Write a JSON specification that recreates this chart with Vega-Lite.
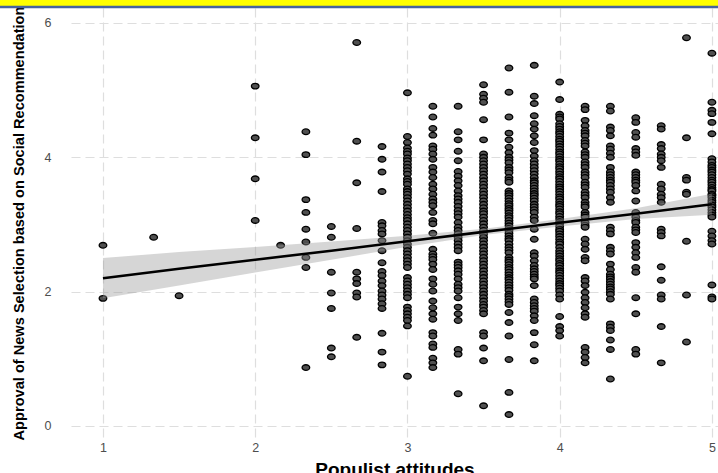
{
  "$schema": "https://vega.github.io/schema/vega-lite/v6.json",
  "width": 647,
  "height": 429,
  "autosize": "none",
  "padding": {"left": 71, "top": 8, "right": 0, "bottom": 36},
  "background": "white",
  "config": {
    "view": {"stroke": null},
    "axis": {
      "grid": true, "gridColor": "#dedede", "gridDash": [9, 5], "gridWidth": 1.2,
      "domain": false, "ticks": false, "format": "d",
      "labelFont": "Liberation Sans", "labelFontSize": 12.5, "labelColor": "#4d4d4d",
      "titleColor": "#000000", "titleFontWeight": "bold", "titleFont": "Liberation Sans"
    }
  },
  "datasets": {
    "pts": [
      {"x":1,"y":2.69},{"x":1,"y":1.90},{"x":1.333,"y":2.81},{"x":1.5,"y":1.94},
      {"x":2,"y":5.06},{"x":2,"y":4.29},{"x":2,"y":3.68},{"x":2,"y":3.06},{"x":2.167,"y":2.69},
      {"x":2.333,"y":4.38},{"x":2.333,"y":4.04},{"x":2.333,"y":3.37},{"x":2.333,"y":3.18},{"x":2.333,"y":2.93},{"x":2.333,"y":2.74},{"x":2.333,"y":2.51},{"x":2.333,"y":2.36},{"x":2.333,"y":0.87},
      {"x":2.5,"y":2.97},{"x":2.5,"y":2.81},{"x":2.5,"y":2.29},{"x":2.5,"y":1.98},{"x":2.5,"y":1.75},{"x":2.5,"y":1.16},{"x":2.5,"y":1.03},
      {"x":2.667,"y":5.71},{"x":2.667,"y":4.24},{"x":2.667,"y":3.62},{"x":2.667,"y":2.94},{"x":2.667,"y":2.29},{"x":2.667,"y":2.19},{"x":2.667,"y":2.12},{"x":2.667,"y":1.98},{"x":2.667,"y":1.92},{"x":2.667,"y":1.32},
      {"x":2.833,"y":4.16},{"x":2.833,"y":3.97},{"x":2.833,"y":3.78},{"x":2.833,"y":3.49},{"x":2.833,"y":3.03},{"x":2.833,"y":2.98},{"x":2.833,"y":2.91},{"x":2.833,"y":2.86},{"x":2.833,"y":2.76},{"x":2.833,"y":2.61},{"x":2.833,"y":2.43},{"x":2.833,"y":2.30},{"x":2.833,"y":2.24},{"x":2.833,"y":2.16},{"x":2.833,"y":2.09},{"x":2.833,"y":2.01},{"x":2.833,"y":1.95},{"x":2.833,"y":1.89},{"x":2.833,"y":1.82},{"x":2.833,"y":1.75},{"x":2.833,"y":1.38},{"x":2.833,"y":1.10},{"x":2.833,"y":0.91},
      {"x":3,"y":4.96},{"x":3,"y":4.31},{"x":3,"y":4.22},{"x":3,"y":4.14},{"x":3,"y":4.09},{"x":3,"y":4.05},{"x":3,"y":3.99},{"x":3,"y":3.95},{"x":3,"y":3.90},{"x":3,"y":3.85},{"x":3,"y":3.80},{"x":3,"y":3.75},{"x":3,"y":3.68},{"x":3,"y":3.64},{"x":3,"y":3.60},{"x":3,"y":3.53},{"x":3,"y":3.49},{"x":3,"y":3.45},{"x":3,"y":3.40},{"x":3,"y":3.35},{"x":3,"y":3.30},{"x":3,"y":3.25},{"x":3,"y":3.20},{"x":3,"y":3.15},{"x":3,"y":3.10},{"x":3,"y":3.06},{"x":3,"y":3.01},{"x":3,"y":2.96},{"x":3,"y":2.91},{"x":3,"y":2.86},{"x":3,"y":2.81},{"x":3,"y":2.76},{"x":3,"y":2.71},{"x":3,"y":2.66},{"x":3,"y":2.61},{"x":3,"y":2.56},{"x":3,"y":2.51},{"x":3,"y":2.46},{"x":3,"y":2.41},{"x":3,"y":2.36},{"x":3,"y":2.21},{"x":3,"y":2.16},{"x":3,"y":2.11},{"x":3,"y":2.06},{"x":3,"y":2.01},{"x":3,"y":1.96},{"x":3,"y":1.91},{"x":3,"y":1.77},{"x":3,"y":1.72},{"x":3,"y":1.67},{"x":3,"y":1.62},{"x":3,"y":1.57},{"x":3,"y":1.49},{"x":3,"y":0.74},
      {"x":3.167,"y":4.76},{"x":3.167,"y":4.60},{"x":3.167,"y":4.43},{"x":3.167,"y":4.33},{"x":3.167,"y":4.17},{"x":3.167,"y":4.12},{"x":3.167,"y":4.05},{"x":3.167,"y":3.97},{"x":3.167,"y":3.85},{"x":3.167,"y":3.78},{"x":3.167,"y":3.70},{"x":3.167,"y":3.60},{"x":3.167,"y":3.53},{"x":3.167,"y":3.45},{"x":3.167,"y":3.38},{"x":3.167,"y":3.33},{"x":3.167,"y":3.28},{"x":3.167,"y":3.18},{"x":3.167,"y":3.06},{"x":3.167,"y":3.01},{"x":3.167,"y":2.87},{"x":3.167,"y":2.63},{"x":3.167,"y":2.56},{"x":3.167,"y":2.52},{"x":3.167,"y":2.48},{"x":3.167,"y":2.41},{"x":3.167,"y":2.33},{"x":3.167,"y":2.19},{"x":3.167,"y":2.11},{"x":3.167,"y":2.01},{"x":3.167,"y":1.86},{"x":3.167,"y":1.76},{"x":3.167,"y":1.67},{"x":3.167,"y":1.59},{"x":3.167,"y":1.39},{"x":3.167,"y":1.34},{"x":3.167,"y":1.22},{"x":3.167,"y":1.17},{"x":3.167,"y":1.01},{"x":3.167,"y":0.94},{"x":3.167,"y":0.87},
      {"x":3.333,"y":4.76},{"x":3.333,"y":4.38},{"x":3.333,"y":4.26},{"x":3.333,"y":4.09},{"x":3.333,"y":3.95},{"x":3.333,"y":3.79},{"x":3.333,"y":3.72},{"x":3.333,"y":3.65},{"x":3.333,"y":3.58},{"x":3.333,"y":3.50},{"x":3.333,"y":3.43},{"x":3.333,"y":3.38},{"x":3.333,"y":3.33},{"x":3.333,"y":3.27},{"x":3.333,"y":3.21},{"x":3.333,"y":3.16},{"x":3.333,"y":3.11},{"x":3.333,"y":3.03},{"x":3.333,"y":2.96},{"x":3.333,"y":2.91},{"x":3.333,"y":2.86},{"x":3.333,"y":2.81},{"x":3.333,"y":2.76},{"x":3.333,"y":2.71},{"x":3.333,"y":2.66},{"x":3.333,"y":2.61},{"x":3.333,"y":2.44},{"x":3.333,"y":2.40},{"x":3.333,"y":2.36},{"x":3.333,"y":2.31},{"x":3.333,"y":2.26},{"x":3.333,"y":2.19},{"x":3.333,"y":2.11},{"x":3.333,"y":2.06},{"x":3.333,"y":2.01},{"x":3.333,"y":1.91},{"x":3.333,"y":1.77},{"x":3.333,"y":1.67},{"x":3.333,"y":1.57},{"x":3.333,"y":1.14},{"x":3.333,"y":1.07},{"x":3.333,"y":0.48},
      {"x":3.5,"y":5.08},{"x":3.5,"y":4.94},{"x":3.5,"y":4.88},{"x":3.5,"y":4.82},{"x":3.5,"y":4.56},{"x":3.5,"y":4.26},{"x":3.5,"y":4.05},{"x":3.5,"y":4.00},{"x":3.5,"y":3.95},{"x":3.5,"y":3.90},{"x":3.5,"y":3.85},{"x":3.5,"y":3.80},{"x":3.5,"y":3.75},{"x":3.5,"y":3.70},{"x":3.5,"y":3.65},{"x":3.5,"y":3.60},{"x":3.5,"y":3.55},{"x":3.5,"y":3.50},{"x":3.5,"y":3.45},{"x":3.5,"y":3.40},{"x":3.5,"y":3.35},{"x":3.5,"y":3.30},{"x":3.5,"y":3.25},{"x":3.5,"y":3.20},{"x":3.5,"y":3.16},{"x":3.5,"y":3.11},{"x":3.5,"y":3.06},{"x":3.5,"y":3.01},{"x":3.5,"y":2.96},{"x":3.5,"y":2.91},{"x":3.5,"y":2.86},{"x":3.5,"y":2.81},{"x":3.5,"y":2.76},{"x":3.5,"y":2.71},{"x":3.5,"y":2.66},{"x":3.5,"y":2.61},{"x":3.5,"y":2.56},{"x":3.5,"y":2.51},{"x":3.5,"y":2.46},{"x":3.5,"y":2.41},{"x":3.5,"y":2.36},{"x":3.5,"y":2.31},{"x":3.5,"y":2.26},{"x":3.5,"y":2.21},{"x":3.5,"y":2.16},{"x":3.5,"y":2.11},{"x":3.5,"y":2.06},{"x":3.5,"y":2.01},{"x":3.5,"y":1.96},{"x":3.5,"y":1.91},{"x":3.5,"y":1.86},{"x":3.5,"y":1.81},{"x":3.5,"y":1.77},{"x":3.5,"y":1.72},{"x":3.5,"y":1.67},{"x":3.5,"y":1.39},{"x":3.5,"y":1.34},{"x":3.5,"y":1.16},{"x":3.5,"y":0.97},{"x":3.5,"y":0.30},
      {"x":3.667,"y":5.33},{"x":3.667,"y":4.97},{"x":3.667,"y":4.60},{"x":3.667,"y":4.36},{"x":3.667,"y":4.26},{"x":3.667,"y":4.15},{"x":3.667,"y":4.07},{"x":3.667,"y":4.00},{"x":3.667,"y":3.96},{"x":3.667,"y":3.92},{"x":3.667,"y":3.85},{"x":3.667,"y":3.81},{"x":3.667,"y":3.77},{"x":3.667,"y":3.70},{"x":3.667,"y":3.66},{"x":3.667,"y":3.63},{"x":3.667,"y":3.50},{"x":3.667,"y":3.46},{"x":3.667,"y":3.43},{"x":3.667,"y":3.39},{"x":3.667,"y":3.35},{"x":3.667,"y":3.31},{"x":3.667,"y":3.28},{"x":3.667,"y":3.24},{"x":3.667,"y":3.21},{"x":3.667,"y":3.17},{"x":3.667,"y":3.13},{"x":3.667,"y":3.10},{"x":3.667,"y":3.06},{"x":3.667,"y":3.02},{"x":3.667,"y":2.98},{"x":3.667,"y":2.94},{"x":3.667,"y":2.91},{"x":3.667,"y":2.87},{"x":3.667,"y":2.83},{"x":3.667,"y":2.79},{"x":3.667,"y":2.76},{"x":3.667,"y":2.71},{"x":3.667,"y":2.66},{"x":3.667,"y":2.62},{"x":3.667,"y":2.58},{"x":3.667,"y":2.51},{"x":3.667,"y":2.47},{"x":3.667,"y":2.44},{"x":3.667,"y":2.40},{"x":3.667,"y":2.36},{"x":3.667,"y":2.33},{"x":3.667,"y":2.29},{"x":3.667,"y":2.25},{"x":3.667,"y":2.21},{"x":3.667,"y":2.18},{"x":3.667,"y":2.14},{"x":3.667,"y":2.10},{"x":3.667,"y":2.06},{"x":3.667,"y":2.02},{"x":3.667,"y":1.96},{"x":3.667,"y":1.93},{"x":3.667,"y":1.89},{"x":3.667,"y":1.85},{"x":3.667,"y":1.81},{"x":3.667,"y":1.69},{"x":3.667,"y":1.54},{"x":3.667,"y":1.34},{"x":3.667,"y":0.99},{"x":3.667,"y":0.50},{"x":3.667,"y":0.17},
      {"x":3.833,"y":5.37},{"x":3.833,"y":4.91},{"x":3.833,"y":4.80},{"x":3.833,"y":4.62},{"x":3.833,"y":4.50},{"x":3.833,"y":4.42},{"x":3.833,"y":4.32},{"x":3.833,"y":4.22},{"x":3.833,"y":4.10},{"x":3.833,"y":4.02},{"x":3.833,"y":3.95},{"x":3.833,"y":3.90},{"x":3.833,"y":3.85},{"x":3.833,"y":3.80},{"x":3.833,"y":3.75},{"x":3.833,"y":3.70},{"x":3.833,"y":3.65},{"x":3.833,"y":3.62},{"x":3.833,"y":3.58},{"x":3.833,"y":3.54},{"x":3.833,"y":3.50},{"x":3.833,"y":3.46},{"x":3.833,"y":3.43},{"x":3.833,"y":3.39},{"x":3.833,"y":3.35},{"x":3.833,"y":3.30},{"x":3.833,"y":3.26},{"x":3.833,"y":3.22},{"x":3.833,"y":3.18},{"x":3.833,"y":3.11},{"x":3.833,"y":3.06},{"x":3.833,"y":2.93},{"x":3.833,"y":2.78},{"x":3.833,"y":2.58},{"x":3.833,"y":2.53},{"x":3.833,"y":2.46},{"x":3.833,"y":2.39},{"x":3.833,"y":2.34},{"x":3.833,"y":2.30},{"x":3.833,"y":2.26},{"x":3.833,"y":2.22},{"x":3.833,"y":2.19},{"x":3.833,"y":2.09},{"x":3.833,"y":1.89},{"x":3.833,"y":1.84},{"x":3.833,"y":1.79},{"x":3.833,"y":1.75},{"x":3.833,"y":1.71},{"x":3.833,"y":1.64},{"x":3.833,"y":1.57},{"x":3.833,"y":1.39},{"x":3.833,"y":1.21},{"x":3.833,"y":0.97},
      {"x":4,"y":5.12},{"x":4,"y":4.86},{"x":4,"y":4.64},{"x":4,"y":4.60},{"x":4,"y":4.57},{"x":4,"y":4.50},{"x":4,"y":4.46},{"x":4,"y":4.42},{"x":4,"y":4.38},{"x":4,"y":4.35},{"x":4,"y":4.31},{"x":4,"y":4.27},{"x":4,"y":4.24},{"x":4,"y":4.20},{"x":4,"y":4.16},{"x":4,"y":4.12},{"x":4,"y":4.08},{"x":4,"y":4.05},{"x":4,"y":4.01},{"x":4,"y":3.97},{"x":4,"y":3.94},{"x":4,"y":3.90},{"x":4,"y":3.86},{"x":4,"y":3.83},{"x":4,"y":3.79},{"x":4,"y":3.75},{"x":4,"y":3.71},{"x":4,"y":3.68},{"x":4,"y":3.64},{"x":4,"y":3.60},{"x":4,"y":3.56},{"x":4,"y":3.53},{"x":4,"y":3.49},{"x":4,"y":3.45},{"x":4,"y":3.41},{"x":4,"y":3.38},{"x":4,"y":3.34},{"x":4,"y":3.30},{"x":4,"y":3.27},{"x":4,"y":3.23},{"x":4,"y":3.19},{"x":4,"y":3.16},{"x":4,"y":3.12},{"x":4,"y":3.08},{"x":4,"y":3.04},{"x":4,"y":3.01},{"x":4,"y":2.97},{"x":4,"y":2.93},{"x":4,"y":2.90},{"x":4,"y":2.86},{"x":4,"y":2.82},{"x":4,"y":2.78},{"x":4,"y":2.74},{"x":4,"y":2.71},{"x":4,"y":2.66},{"x":4,"y":2.61},{"x":4,"y":2.57},{"x":4,"y":2.53},{"x":4,"y":2.49},{"x":4,"y":2.46},{"x":4,"y":2.42},{"x":4,"y":2.39},{"x":4,"y":2.35},{"x":4,"y":2.31},{"x":4,"y":2.28},{"x":4,"y":2.24},{"x":4,"y":2.20},{"x":4,"y":2.16},{"x":4,"y":2.12},{"x":4,"y":2.09},{"x":4,"y":2.05},{"x":4,"y":2.01},{"x":4,"y":1.95},{"x":4,"y":1.89},{"x":4,"y":1.63},{"x":4,"y":1.48},{"x":4,"y":1.42},{"x":4,"y":1.34},
      {"x":4.167,"y":4.76},{"x":4.167,"y":4.71},{"x":4.167,"y":4.55},{"x":4.167,"y":4.47},{"x":4.167,"y":4.40},{"x":4.167,"y":4.36},{"x":4.167,"y":4.32},{"x":4.167,"y":4.25},{"x":4.167,"y":4.21},{"x":4.167,"y":4.17},{"x":4.167,"y":4.08},{"x":4.167,"y":4.04},{"x":4.167,"y":4.00},{"x":4.167,"y":3.93},{"x":4.167,"y":3.89},{"x":4.167,"y":3.85},{"x":4.167,"y":3.78},{"x":4.167,"y":3.74},{"x":4.167,"y":3.70},{"x":4.167,"y":3.63},{"x":4.167,"y":3.59},{"x":4.167,"y":3.55},{"x":4.167,"y":3.48},{"x":4.167,"y":3.44},{"x":4.167,"y":3.40},{"x":4.167,"y":3.33},{"x":4.167,"y":3.29},{"x":4.167,"y":3.26},{"x":4.167,"y":3.18},{"x":4.167,"y":3.14},{"x":4.167,"y":3.11},{"x":4.167,"y":3.03},{"x":4.167,"y":2.99},{"x":4.167,"y":2.96},{"x":4.167,"y":2.78},{"x":4.167,"y":2.71},{"x":4.167,"y":2.63},{"x":4.167,"y":2.51},{"x":4.167,"y":2.46},{"x":4.167,"y":2.21},{"x":4.167,"y":2.16},{"x":4.167,"y":2.09},{"x":4.167,"y":1.99},{"x":4.167,"y":1.91},{"x":4.167,"y":1.84},{"x":4.167,"y":1.76},{"x":4.167,"y":1.67},{"x":4.167,"y":1.62},{"x":4.167,"y":1.17},{"x":4.167,"y":1.10},{"x":4.167,"y":1.02},{"x":4.167,"y":0.94},
      {"x":4.333,"y":4.76},{"x":4.333,"y":4.69},{"x":4.333,"y":4.45},{"x":4.333,"y":4.40},{"x":4.333,"y":4.32},{"x":4.333,"y":4.17},{"x":4.333,"y":4.12},{"x":4.333,"y":4.06},{"x":4.333,"y":4.00},{"x":4.333,"y":3.85},{"x":4.333,"y":3.78},{"x":4.333,"y":3.74},{"x":4.333,"y":3.70},{"x":4.333,"y":3.66},{"x":4.333,"y":3.63},{"x":4.333,"y":3.58},{"x":4.333,"y":3.53},{"x":4.333,"y":3.48},{"x":4.333,"y":3.40},{"x":4.333,"y":3.33},{"x":4.333,"y":2.96},{"x":4.333,"y":2.91},{"x":4.333,"y":2.86},{"x":4.333,"y":2.66},{"x":4.333,"y":2.61},{"x":4.333,"y":2.56},{"x":4.333,"y":2.41},{"x":4.333,"y":2.33},{"x":4.333,"y":2.26},{"x":4.333,"y":2.22},{"x":4.333,"y":2.19},{"x":4.333,"y":2.15},{"x":4.333,"y":2.11},{"x":4.333,"y":2.07},{"x":4.333,"y":2.04},{"x":4.333,"y":2.00},{"x":4.333,"y":1.96},{"x":4.333,"y":1.89},{"x":4.333,"y":1.52},{"x":4.333,"y":1.47},{"x":4.333,"y":1.42},{"x":4.333,"y":1.28},{"x":4.333,"y":1.14},{"x":4.333,"y":0.70},
      {"x":4.5,"y":4.59},{"x":4.5,"y":4.52},{"x":4.5,"y":4.37},{"x":4.5,"y":4.30},{"x":4.5,"y":4.13},{"x":4.5,"y":4.08},{"x":4.5,"y":4.03},{"x":4.5,"y":3.78},{"x":4.5,"y":3.74},{"x":4.5,"y":3.70},{"x":4.5,"y":3.66},{"x":4.5,"y":3.63},{"x":4.5,"y":3.58},{"x":4.5,"y":3.50},{"x":4.5,"y":3.35},{"x":4.5,"y":3.18},{"x":4.5,"y":3.11},{"x":4.5,"y":3.06},{"x":4.5,"y":3.03},{"x":4.5,"y":2.96},{"x":4.5,"y":2.92},{"x":4.5,"y":2.88},{"x":4.5,"y":2.73},{"x":4.5,"y":2.66},{"x":4.5,"y":2.58},{"x":4.5,"y":2.51},{"x":4.5,"y":2.36},{"x":4.5,"y":2.29},{"x":4.5,"y":1.91},{"x":4.5,"y":1.67},{"x":4.5,"y":1.14},{"x":4.5,"y":1.07},
      {"x":4.667,"y":4.47},{"x":4.667,"y":4.42},{"x":4.667,"y":4.19},{"x":4.667,"y":4.13},{"x":4.667,"y":4.05},{"x":4.667,"y":4.00},{"x":4.667,"y":3.95},{"x":4.667,"y":3.85},{"x":4.667,"y":3.60},{"x":4.667,"y":3.53},{"x":4.667,"y":3.45},{"x":4.667,"y":3.40},{"x":4.667,"y":3.33},{"x":4.667,"y":2.93},{"x":4.667,"y":2.88},{"x":4.667,"y":2.83},{"x":4.667,"y":2.37},{"x":4.667,"y":2.17},{"x":4.667,"y":1.95},{"x":4.667,"y":1.89},{"x":4.667,"y":1.48},{"x":4.667,"y":0.94},
      {"x":4.833,"y":5.78},{"x":4.833,"y":4.29},{"x":4.833,"y":3.70},{"x":4.833,"y":3.66},{"x":4.833,"y":3.48},{"x":4.833,"y":3.45},{"x":4.833,"y":2.75},{"x":4.833,"y":1.95},{"x":4.833,"y":1.25},
      {"x":5,"y":5.55},{"x":5,"y":4.82},{"x":5,"y":4.70},{"x":5,"y":4.65},{"x":5,"y":4.52},{"x":5,"y":4.35},{"x":5,"y":3.98},{"x":5,"y":3.93},{"x":5,"y":3.88},{"x":5,"y":3.85},{"x":5,"y":3.81},{"x":5,"y":3.78},{"x":5,"y":3.74},{"x":5,"y":3.70},{"x":5,"y":3.66},{"x":5,"y":3.63},{"x":5,"y":3.59},{"x":5,"y":3.55},{"x":5,"y":3.52},{"x":5,"y":3.50},{"x":5,"y":3.45},{"x":5,"y":3.43},{"x":5,"y":3.40},{"x":5,"y":3.36},{"x":5,"y":3.33},{"x":5,"y":3.29},{"x":5,"y":3.26},{"x":5,"y":3.22},{"x":5,"y":3.18},{"x":5,"y":3.14},{"x":5,"y":3.11},{"x":5,"y":2.90},{"x":5,"y":2.83},{"x":5,"y":2.76},{"x":5,"y":2.71},{"x":5,"y":2.10},{"x":5,"y":1.92},{"x":5,"y":1.89}
    ],
    "fit": [
      {"x":1,"fit":2.2,"lo":1.9,"hi":2.5},
      {"x":1.5,"fit":2.34,"lo":2.09,"hi":2.59},
      {"x":2,"fit":2.475,"lo":2.285,"hi":2.665},
      {"x":2.5,"fit":2.61,"lo":2.475,"hi":2.745},
      {"x":3,"fit":2.75,"lo":2.667,"hi":2.833},
      {"x":3.5,"fit":2.89,"lo":2.845,"hi":2.935},
      {"x":4,"fit":3.025,"lo":2.969,"hi":3.081},
      {"x":4.5,"fit":3.16,"lo":3.08,"hi":3.24},
      {"x":5,"fit":3.3,"lo":3.144,"hi":3.456}
    ],
    "deco": [{"x0":0.2,"x1":5.3,"ylo":6.252,"yhi":6.4,"yl":6.238}]
  },
  "layer": [
    {
      "data": {"name": "pts"},
      "mark": {"type": "point", "shape": "M-1,0A1,0.74,0,1,1,1,0A1,0.74,0,1,1,-1,0Z", "filled": true, "fill": "#505050", "stroke": "#000000", "strokeWidth": 1.3, "opacity": 1, "size": 58},
      "encoding": {
        "x": {"field": "x", "type": "quantitative", "scale": {"domain": [0.79, 5.04], "nice": false, "zero": false},
              "axis": {"values": [1, 2, 3, 4, 5], "labelPadding": 4, "title": "Populist attitudes", "titleFontSize": 19, "titleY": 38, "titleBaseline": "alphabetic"}},
        "y": {"field": "y", "type": "quantitative", "scale": {"domain": [-0.164, 6.223], "nice": false, "zero": false},
              "axis": {"values": [0, 2, 4, 6], "labelPadding": 20, "title": "Approval of News Selection based on Social Recommendation", "titleFontSize": 14.6, "titleAngle": -90, "titleX": -52, "titleY": 215, "titleAlign": "center", "titleBaseline": "middle"}}
      }
    },
    {
      "data": {"name": "fit"},
      "mark": {"type": "area", "color": "#999999", "opacity": 0.4},
      "encoding": {
        "x": {"field": "x", "type": "quantitative", "scale": {"domain": [0.79, 5.04], "nice": false, "zero": false}},
        "y": {"field": "lo", "type": "quantitative", "scale": {"domain": [-0.164, 6.223], "nice": false, "zero": false}},
        "y2": {"field": "hi"}
      }
    },
    {
      "data": {"name": "fit"},
      "mark": {"type": "line", "color": "#000000", "strokeWidth": 2.6},
      "encoding": {
        "x": {"field": "x", "type": "quantitative", "scale": {"domain": [0.79, 5.04], "nice": false, "zero": false}},
        "y": {"field": "fit", "type": "quantitative", "scale": {"domain": [-0.164, 6.223], "nice": false, "zero": false}}
      }
    },
    {
      "data": {"name": "deco"},
      "mark": {"type": "rect", "color": "#ffff00", "clip": false},
      "encoding": {
        "x": {"field": "x0", "type": "quantitative", "scale": {"domain": [0.79, 5.04], "nice": false, "zero": false}},
        "x2": {"field": "x1"},
        "y": {"field": "ylo", "type": "quantitative", "scale": {"domain": [-0.164, 6.223], "nice": false, "zero": false}},
        "y2": {"field": "yhi"}
      }
    },
    {
      "data": {"name": "deco"},
      "mark": {"type": "rule", "color": "#46639e", "strokeWidth": 2.5, "clip": false},
      "encoding": {
        "x": {"field": "x0", "type": "quantitative", "scale": {"domain": [0.79, 5.04], "nice": false, "zero": false}},
        "x2": {"field": "x1"},
        "y": {"field": "yl", "type": "quantitative", "scale": {"domain": [-0.164, 6.223], "nice": false, "zero": false}}
      }
    }
  ]
}
